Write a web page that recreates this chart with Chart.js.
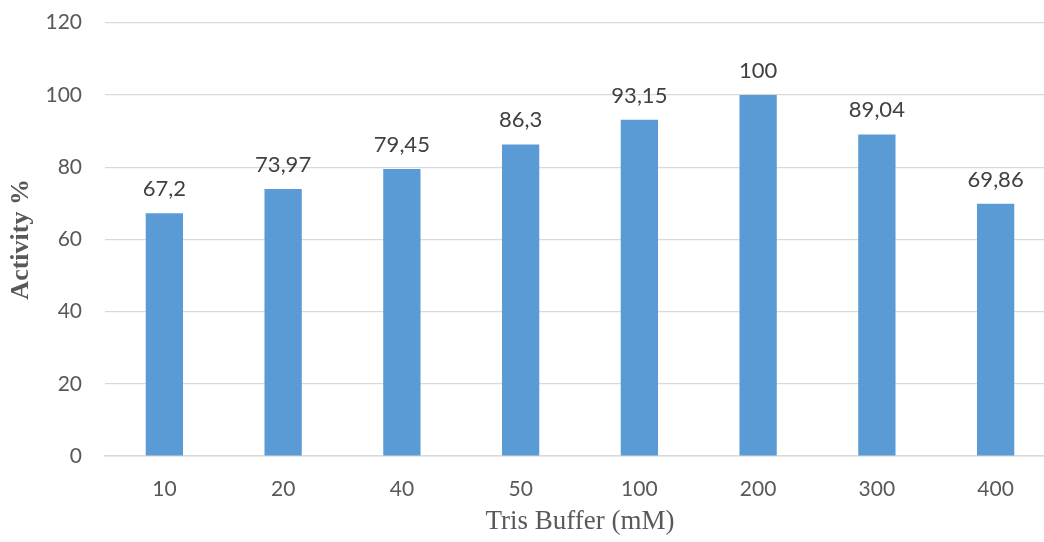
<!DOCTYPE html>
<html>
<head>
<meta charset="utf-8">
<script src="https://cdn.jsdelivr.net/npm/chart.js@4/dist/chart.umd.min.js"></script>
<style>
  html, body { margin: 0; padding: 0; background: #fff; overflow: hidden; }
  #wrap { width: 1044px; height: 542px; overflow: hidden; }
</style>
</head>
<body>
<div id="wrap"><canvas id="c" width="1056" height="542"></canvas></div>
<script>
const categories = ['10', '20', '40', '50', '100', '200', '300', '400'];
const activity = [67.2, 73.97, 79.45, 86.3, 93.15, 100, 89.04, 69.86];
const yTicks = [0, 20, 40, 60, 80, 100, 120];

const tickFont = 'Lato, "Open Sans", sans-serif';

// Value labels above each bar, decimal comma
const barLabels = {
  id: 'barLabels',
  afterDatasetsDraw(chart) {
    const ctx = chart.ctx;
    const meta = chart.getDatasetMeta(0);
    ctx.save();
    ctx.font = '22px ' + tickFont;
    ctx.fillStyle = '#404040';
    ctx.textAlign = 'center';
    ctx.textBaseline = 'alphabetic';
    meta.data.forEach((bar, i) => {
      const txt = String(activity[i]).replace('.', ',');
      ctx.fillText(txt, bar.x, bar.y - 17);
    });
    ctx.restore();
  }
};

new Chart(document.getElementById('c'), {
  type: 'bar',
  data: {
    labels: categories,
    datasets: [{
      data: activity,
      backgroundColor: '#5B9BD5',
      borderWidth: 0,
      categoryPercentage: 1,
      barPercentage: 0.314
    }]
  },
  options: {
    responsive: false,
    animation: false,
    layout: { padding: { left: 6, right: 1, top: 0, bottom: 4 } },
    plugins: { legend: { display: false }, tooltip: { enabled: false } },
    scales: {
      x: {
        afterFit(scale) { scale.height = 82; scale.paddingRight = 0; },
        grid: { display: false, drawTicks: false },
        border: { display: true, color: '#d9d9d9', width: 1.5 },
        ticks: { color: '#595959', font: { size: 21, family: tickFont }, padding: 21 },
        title: { display: true, text: 'Tris Buffer (mM)', color: '#595959',
                 font: { size: 27, family: '"Liberation Serif", serif' }, padding: { top: 2, bottom: 0 } }
      },
      y: {
        min: 0, max: 120,
        afterBuildTicks(axis) { axis.ticks = yTicks.map(v => ({ value: v })); },
        afterFit(scale) { scale.width = 99; scale.paddingTop = 22.7; scale.paddingBottom = 0; },
        grid: { color: '#d9d9d9', lineWidth: 1.2, drawTicks: false },
        border: { display: false },
        ticks: { color: '#595959', font: { size: 21, family: tickFont }, padding: 23 },
        title: { display: true, text: 'Activity %', color: '#595959',
                 font: { size: 26, weight: 'bold', family: '"Liberation Serif", serif' }, padding: { top: 0, bottom: 8 } }
      }
    }
  },
  plugins: [barLabels]
});
</script>
</body>
</html>
